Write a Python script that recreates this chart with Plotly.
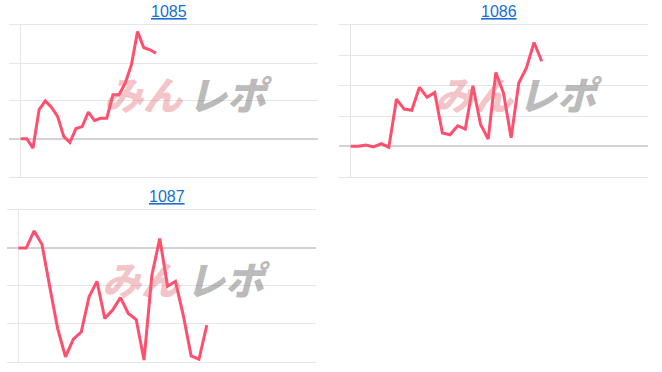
import plotly.graph_objects as go

titles = ["1085", "1086", "1087"]

s1085 = [0.0, 0.0, -2.5, 7.7, 10.0, 8.3, 5.9, 0.6, -1.0, 2.7, 3.2, 7.0, 4.8, 5.4, 5.4,
         11.6, 11.6, 14.7, 19.5, 28.3, 24.1, 23.5, 22.6]
s1086 = [0.0, 0.0, 0.4, -0.2, 0.9, -0.3, 15.6, 12.3, 11.9, 19.5, 16.2, 17.8, 4.4, 3.8,
         6.8, 5.7, 20.0, 7.2, 2.4, 24.4, 17.6, 2.8, 20.9, 25.9, 34.3, 28.1]
s1087 = [0.0, 0.0, 4.5, 1.0, -10.3, -21.3, -28.8, -24.1, -22.2, -12.9, -8.8, -18.6, -16.4,
         -13.1, -17.3, -18.9, -29.6, -7.2, 2.5, -10.1, -8.8, -17.8, -28.5, -29.4, -20.4]
series = [s1085, s1086, s1087]

x_ranges = [[-1.9, 48.35], [-1.48, 38.95], [-1.45, 37.9]]
y_ranges = [[-10.05, 30.05], [-10.05, 40.1], [-30.05, 10.05]]
x_domains = [[0.0136, 0.4804], [0.5126, 0.9793], [0.0106, 0.4773]]
y_domains = [[0.525, 0.9328], [0.525, 0.9328], [0.0277, 0.4355]]

LINE = "#ff4f6f"
GRID = "#e6e6e6"
ZERO = "#d2d2d2"

fig = go.Figure()
layout = dict(
    width=662, height=372, margin=dict(l=0, r=0, t=0, b=0),
    paper_bgcolor="white", plot_bgcolor="white", showlegend=False,
    font=dict(family="Liberation Sans, Arial, sans-serif"),
)
annotations = []
for i, (name, ys) in enumerate(zip(titles, series)):
    sfx = "" if i == 0 else str(i + 1)
    fig.add_trace(go.Scatter(
        x=list(range(len(ys))), y=ys, mode="lines",
        line=dict(color=LINE, width=3), xaxis="x" + sfx, yaxis="y" + sfx,
        hoverinfo="skip"))
    layout["xaxis" + sfx] = dict(
        domain=x_domains[i], range=x_ranges[i], showgrid=False, showticklabels=False,
        zeroline=True, zerolinecolor=GRID, zerolinewidth=1, anchor="y" + sfx,
        showline=True, mirror=True, linecolor=GRID, linewidth=1,
        fixedrange=True)
    layout["yaxis" + sfx] = dict(
        domain=y_domains[i], range=y_ranges[i], dtick=10, showgrid=True,
        gridcolor=GRID, gridwidth=1, showticklabels=False, zeroline=True,
        zerolinecolor=ZERO, zerolinewidth=1.5, anchor="x" + sfx, fixedrange=True)
    xr = x_ranges[i]
    d = x_domains[i]
    ax0 = d[0] + (0 - xr[0]) / (xr[1] - xr[0]) * (d[1] - d[0])
    annotations.append(dict(
        text=name, x=(ax0 + d[1]) / 2, y=y_domains[i][1], xref="paper", yref="paper",
        xanchor="center", yanchor="bottom", yshift=3, showarrow=False,
        font=dict(size=16, color="#1a6fd1", family="Liberation Sans, Arial, sans-serif",
                  lineposition="under")))
    # watermark
    annotations.append(dict(
        text="みん", x=0.574, y=0.55, xref="x" + sfx + " domain", yref="y" + sfx + " domain",
        xanchor="right", yanchor="middle", showarrow=False,
        font=dict(size=39, color="rgba(226,110,120,0.42)", family="Noto Sans CJK JP",
                  weight=900, style="italic")))
    annotations.append(dict(
        text="レポ", x=0.572, y=0.55, xref="x" + sfx + " domain", yref="y" + sfx + " domain",
        xanchor="left", yanchor="middle", showarrow=False,
        font=dict(size=39, color="rgba(120,120,120,0.5)", family="Noto Sans CJK JP",
                  weight=900, style="italic")))

layout["annotations"] = annotations
fig.update_layout(**layout)
fig.write_html("out.html")
